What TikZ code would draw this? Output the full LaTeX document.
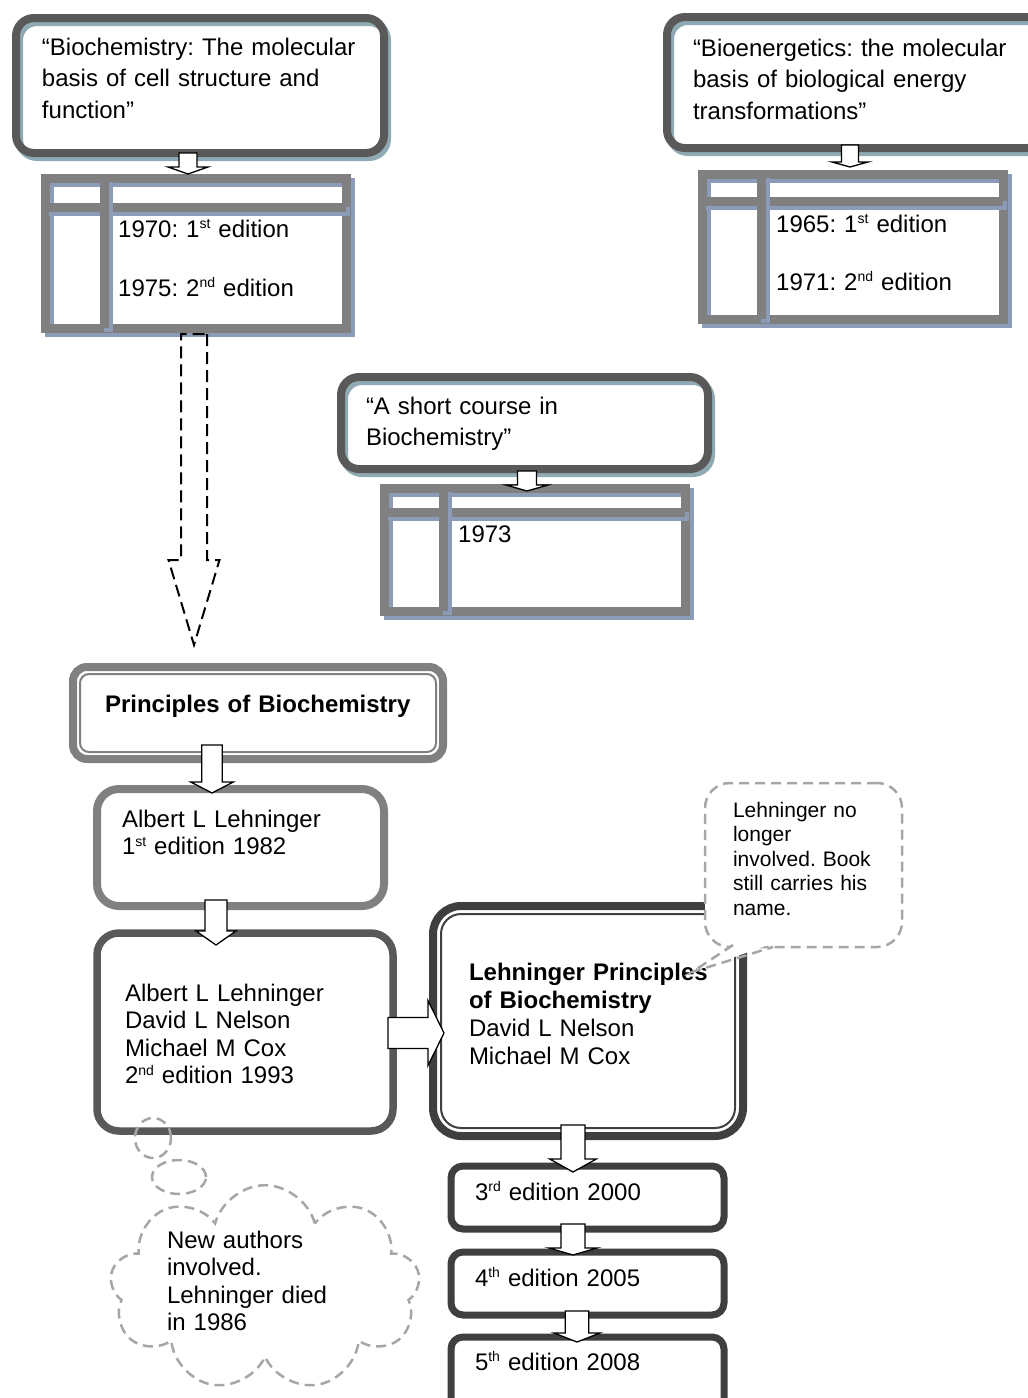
\documentclass[tikz,border=0pt]{standalone}
\usepackage{fontspec}
\setmainfont{Liberation Sans}
\usetikzlibrary{calc,shapes.symbols}
\frenchspacing

\definecolor{boxdark}{HTML}{595959}
\definecolor{boxblack}{HTML}{3F3F3F}
\definecolor{boxgray}{HTML}{808080}
\definecolor{shadowteal}{HTML}{8FAAB3}
\definecolor{shadowblue}{HTML}{8C9CB8}
\definecolor{notegray}{HTML}{A6A6A6}

\newcommand{\boxfont}{\fontsize{24pt}{31.5pt}\selectfont}
\newcommand{\listfont}{\fontsize{24pt}{27.5pt}\selectfont}
\newcommand{\notefont}{\fontsize{21pt}{24.5pt}\selectfont}
\newcommand{\ordsup}[1]{\raisebox{8.5pt}{\fontsize{14pt}{14pt}\selectfont #1}}

% hollow block arrow: [style] start, tip, half body, half head, head length
\newcommand{\blockarrow}[6][]{%
  \draw[arrowline,#1] let \p1=(#2), \p2=(#3),
      \n1={atan2(\y2-\y1,\x2-\x1)}, \n2={veclen(\x2-\x1,\y2-\y1)} in
    [shift={(\p1)}, rotate=\n1]
    (0pt,#4) -- ({\n2-#6},#4) -- ({\n2-#6},#5) -- (\n2,0pt)
    -- ({\n2-#6},-#5) -- ({\n2-#6},-#4) -- (0pt,-#4) -- cycle;
}

\begin{document}
\begin{tikzpicture}[x=1pt, y=-1pt,
    bookbox/.style={draw=boxdark, line width=8pt, rounded corners=18pt,
      outer sep=0pt, inner sep=0pt, align=left, font=\boxfont, anchor=north west},
    shadowed/.style={preaction={draw=shadowteal, line width=8pt,
      transform canvas={shift={(3pt,-4pt)}}}},
    boxdim/.style n args={4}{text width=#1, execute at begin node={\leftskip=#2},
      text height=#3, text depth=#4},
    edbox/.style={bookbox, draw=boxblack, line width=7pt, rounded corners=12pt},
    tableframe/.style={draw=boxgray, line width=9pt, outer sep=0pt, inner sep=0pt,
      anchor=north west, preaction={draw=shadowblue, line width=9pt,
      transform canvas={shift={(4pt,-4pt)}}}},
    tableline/.style={draw=boxgray, line width=9pt, preaction={draw=shadowblue,
      line width=9pt, transform canvas={shift={(4pt,-4pt)}}}},
    celltext/.style={anchor=north west, inner sep=0pt, text width=220pt,
      text height=20pt, align=left, font=\boxfont},
    arrowline/.style={draw=black, fill=white, line width=1.3pt, line join=miter},
    noteline/.style={draw=notegray, line width=2.5pt, dash pattern=on 10pt off 6pt},
  ]
  \useasboundingbox (0,0) rectangle (1028,1398);
  \clip (0,0) rectangle (1028,1398);

  % Early titles
  \node[bookbox, shadowed, boxdim={368pt}{26pt}{37pt}{98pt}] (bio1) at (16,18)
    {“Biochemistry: The molecular\\basis of cell structure and\\function”};
  \node[bookbox, shadowed, boxdim={378pt}{26pt}{39pt}{92pt}] (bio2) at (667,17)
    {“Bioenergetics: the molecular\\basis of biological energy\\transformations”};
  \node[bookbox, shadowed, boxdim={367pt}{25pt}{37pt}{55pt}] (short) at (341,377)
    {“A short course in\\Biochemistry”};

  % Edition tables
  % -- frames
  \node[tableframe, minimum width=301pt, minimum height=150pt] (t1) at (45,178) {};
  \node[tableframe, minimum width=301pt, minimum height=145pt] (t2) at (702,174) {};
  \node[tableframe, minimum width=301pt, minimum height=123pt] (t3) at (384,488) {};
  % -- inner rules
  \draw[tableline] ($(t1.north west)+(0,29)$) -- ($(t1.north east)+(0,29)$);
  \draw[tableline] ($(t1.north west)+(59,0)$) -- ($(t1.south west)+(59,0)$);
  \draw[tableline] ($(t2.north west)+(0,27)$) -- ($(t2.north east)+(0,27)$);
  \draw[tableline] ($(t2.north west)+(59,0)$) -- ($(t2.south west)+(59,0)$);
  \draw[tableline] ($(t3.north west)+(0,24)$) -- ($(t3.north east)+(0,24)$);
  \draw[tableline] ($(t3.north west)+(59,0)$) -- ($(t3.south west)+(59,0)$);
  % -- entries
  \node[celltext] (t1txt) at (118,217)
    {1970: 1\ordsup{st} edition\\[27.5pt]1975: 2\ordsup{nd} edition};
  \node[celltext] (t2txt) at (776,212)
    {1965: 1\ordsup{st} edition\\[26.5pt]1971: 2\ordsup{nd} edition};
  \node[celltext] (t3txt) at (458,522) {1973};

  % Principles line
  \node[bookbox, draw=boxgray, rounded corners=14pt, boxdim={370pt}{32pt}{45pt}{47pt}]
    (pb) at (73,667) {\textbf{Principles of Biochemistry}};
  \draw[boxgray, line width=2pt, rounded corners=9pt]
    ($(pb.north west)+(7,7)$) rectangle ($(pb.south east)+(-7,-7)$);
  \node[bookbox, draw=boxgray, rounded corners=22pt, font=\listfont,
    boxdim={287pt}{25pt}{38pt}{79pt}] (al1) at (97,789)
    {Albert L Lehninger\\1\ordsup{st} edition 1982};
  \node[bookbox, line width=7.5pt, rounded corners=22pt, font=\listfont,
    boxdim={296pt}{28pt}{68pt}{130pt}] (al2) at (97,933)
    {Albert L Lehninger\\David L Nelson\\Michael M Cox\\2\ordsup{nd} edition 1993};
  \node[bookbox, draw=boxblack, rounded corners=28pt, font=\fontsize{24pt}{28pt}\selectfont,
    boxdim={310pt}{36pt}{74pt}{156pt}] (leh) at (433,906)
    {\textbf{Lehninger Principles}\\\textbf{of Biochemistry}\\David L Nelson\\Michael M Cox};
  \draw[boxblack, line width=2pt, rounded corners=20pt]
    ($(leh.north west)+(8,8)$) rectangle ($(leh.south east)+(-8,-8)$);

  % Later editions
  \node[edbox, boxdim={273pt}{24pt}{34pt}{29pt}] (e3) at (451,1166)
    {3\ordsup{rd} edition 2000};
  \node[edbox, boxdim={273pt}{24pt}{34pt}{29pt}] (e4) at (451,1252)
    {4\ordsup{th} edition 2005};
  \node[edbox, boxdim={273pt}{24pt}{33pt}{50pt}] (e5) at (451,1337)
    {5\ordsup{th} edition 2008};

  % Comments
  % -- callout
  \node[noteline, fill=white, rounded corners=25pt, anchor=north west, outer sep=0pt,
    inner sep=0pt, align=left, font=\notefont, boxdim={197pt}{28pt}{34pt}{130pt}]
    (note) at (705,783)
    {Lehninger no\\longer\\involved. Book\\still carries his\\name.};
  \coordinate (notetip) at (692,972);
  \fill[white] ($(note.south west)+(27,-3)$) -- (notetip) -- ($(note.south west)+(66,-3)$) -- cycle;
  \draw[noteline] ($(note.south west)+(28,-2)$) -- (notetip) -- ($(note.south west)+(68,0)$);
  % -- thought cloud
  \node[cloud, cloud puffs=9, cloud ignores aspect, noteline, inner sep=0pt,
    minimum width=310pt, minimum height=195pt, text width=196pt, align=left,
    text height=10pt, text depth=90pt, font=\listfont] (cloud) at (265,1288)
    {New authors\\involved.\\Lehninger died\\in 1986};
  \draw[noteline] (153,1138) ellipse (18pt and 20pt);
  \draw[noteline] (179,1177) ellipse (27pt and 17pt);

  % Block arrows
  \blockarrow{$(bio1.south)+(-12,0)$}{$(bio1.south |- t1.north)+(-12,-4)$}{9pt}{20pt}{7pt}
  \blockarrow{$(bio2.south)+(-6,-3)$}{$(bio2.south |- t2.north)+(-6,-7)$}{8.5pt}{18pt}{5pt}
  \blockarrow{$(short.south)+(2.5,2)$}{$(short.south |- t3.north)+(2.5,3)$}{9.5pt}{21pt}{6pt}
  \blockarrow[fill=none, line width=2pt, dash pattern=on 12pt off 6pt]
    {$(t1.south)+(-1.5,6)$}{$(t1.south |- pb.north)+(-1.5,-22)$}{13pt}{25.5pt}{85pt}
  \blockarrow{$(pb.south)+(-46,-14)$}{$(pb.south |- al1.north)+(-46,4)$}{10.3pt}{21.3pt}{11pt}
  \blockarrow{$(al1.south)+(-24.5,-6)$}{$(al1.south |- al2.north)+(-24.5,12)$}{11pt}{20pt}{14pt}
  \blockarrow{$(al2.east)+(-5,1)$}{$(al2.east -| leh.west)+(11,1)$}{15.5pt}{32.5pt}{16pt}
  \blockarrow{$(leh.south)+(-15,-11)$}{$(leh.south |- e3.north)+(-15,6)$}{12pt}{23.3pt}{13pt}
  \blockarrow{$(e3.south)+(-14.5,-5)$}{$(e3.south |- e4.north)+(-14.5,3)$}{12pt}{24pt}{7pt}
  \blockarrow{$(e4.south)+(-10.5,-4)$}{$(e4.south |- e5.north)+(-10.5,5)$}{11.7pt}{23pt}{9pt}
\end{tikzpicture}
\end{document}
